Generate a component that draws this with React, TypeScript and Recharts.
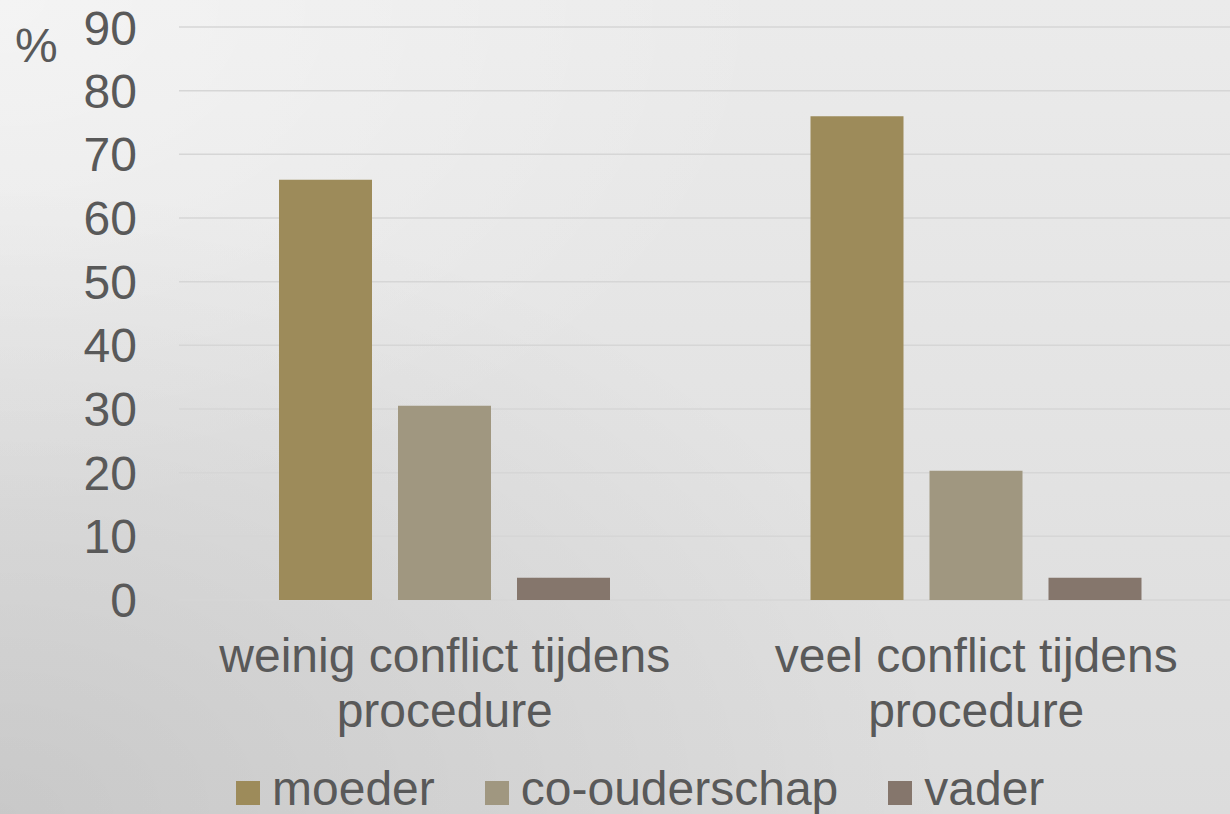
import { BarChart, Bar, XAxis, YAxis, CartesianGrid, Legend } from 'recharts';

const categories = ['weinig conflict tijdens\nprocedure', 'veel conflict tijdens\nprocedure'];
const seriesNames = ['moeder', 'co-ouderschap', 'vader'];
const moeder = [66, 76];
const coOuderschap = [30.5, 20.3];
const vader = [3.5, 3.5];
const yTicks = [0, 10, 20, 30, 40, 50, 60, 70, 80, 90];

const COLORS = ['#9d8b5a', '#a09780', '#85766c'];
const FONT = 'Arial, "Liberation Sans", sans-serif';
const TEXT = '#595959';

const data = categories.map((c, i) => ({
  category: c,
  [seriesNames[0]]: moeder[i],
  [seriesNames[1]]: coOuderschap[i],
  [seriesNames[2]]: vader[i],
}));

const CategoryTick = ({ x, y, payload }: any) => {
  const lines = String(payload.value).split('\n');
  return (
    <text x={x} y={y} textAnchor="middle" fill={TEXT} fontSize={48} fontFamily={FONT}>
      {lines.map((l, i) => (
        <tspan key={i} x={x} dy={i === 0 ? 72 : 55}>
          {l}
        </tspan>
      ))}
    </text>
  );
};

const LegendContent = ({ payload }: any) => {
  const items = [...(payload || [])].sort(
    (a: any, b: any) => seriesNames.indexOf(a.value) - seriesNames.indexOf(b.value)
  );
  return (
    <div style={{ display: 'flex', paddingLeft: 236, paddingTop: 2, fontFamily: FONT, fontSize: 48, color: TEXT, lineHeight: '54px' }}>
      {items.map((p: any, i: number) => (
        <div key={i} style={{ display: 'flex', alignItems: 'center', marginRight: 50 }}>
          <span style={{ display: 'inline-block', width: 24, height: 24, background: p.color, marginRight: 12, marginTop: 8 }} />
          <span>{p.value}</span>
        </div>
      ))}
    </div>
  );
};

export default function App() {
  return (
    <div
      style={{
        position: 'absolute',
        left: 0,
        top: 0,
        width: 1230,
        height: 814,
        overflow: 'hidden',
        background:
          'radial-gradient(ellipse at 0% 100%, rgba(0,0,0,0.09), rgba(0,0,0,0) 55%), radial-gradient(ellipse at 0% 0%, rgba(255,255,255,0.45), rgba(255,255,255,0) 45%), linear-gradient(to bottom, #ebebeb, #dcdcdc)',
      }}
    >
      <BarChart
        width={1242}
        height={814}
        data={data}
        margin={{ top: 27, right: 0, left: 0, bottom: 0 }}
        barCategoryGap={100}
        barGap={26}
      >
        <CartesianGrid vertical={false} stroke="#d6d6d6" strokeWidth={1.5} />
        <XAxis
          dataKey="category"
          height={160}
          axisLine={false}
          tickLine={false}
          tickSize={0}
          tickMargin={0}
          interval={0}
          tick={<CategoryTick />}
        />
        <YAxis
          width={179}
          domain={[0, 90]}
          ticks={yTicks}
          axisLine={false}
          tickLine={false}
          tickSize={0}
          tickMargin={42}
          tick={{ fill: TEXT, fontSize: 48, fontFamily: FONT }}
          label={{
            content: ({ viewBox }: any) => (
              <text x={viewBox.x + 15} y={viewBox.y + 35} fill={TEXT} fontSize={48} fontFamily={FONT}>
                %
              </text>
            ),
          }}
        />
        <Legend verticalAlign="bottom" height={54} content={<LegendContent />} />
        {seriesNames.map((name, i) => (
          <Bar key={name} dataKey={name} fill={COLORS[i]} isAnimationActive={false} />
        ))}
      </BarChart>
    </div>
  );
}
